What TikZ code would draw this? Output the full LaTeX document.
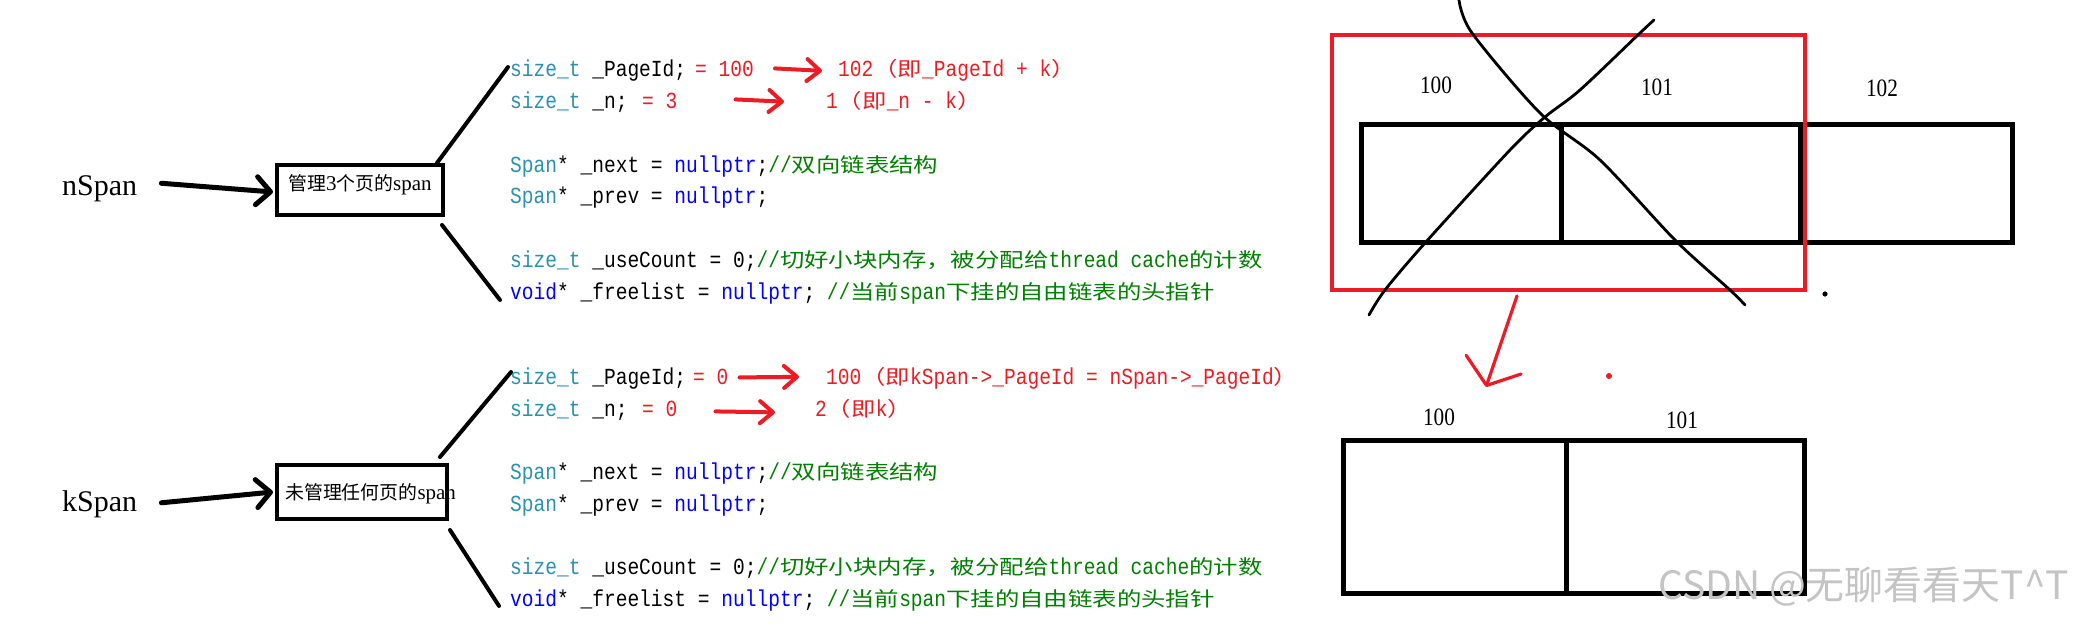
\documentclass[tikz,border=0pt]{standalone}
\usepackage{fontspec}
\setmainfont{Liberation Serif}
\newfontfamily\codefont[FakeStretch=0.85]{Liberation Mono}
\newfontfamily\codecjk[FakeStretch=1.22,Scale=0.87]{Noto Sans CJK SC}
\newfontfamily\cjk[Scale=0.9]{Noto Sans CJK SC}
\newfontfamily\numfont[FakeStretch=0.85]{Liberation Serif}
\newfontfamily\wmfont{Noto Sans CJK SC}
\usetikzlibrary{arrows.meta,calc}
\definecolor{kwteal}{HTML}{2B91AF}
\definecolor{kwblue}{HTML}{0000FF}
\definecolor{cmgreen}{HTML}{008000}
\definecolor{inkred}{HTML}{ED1C24}
\definecolor{wmgray}{HTML}{C4C4C4}
\newcommand\Zh[1]{{\codecjk #1}}
\newcommand\Ty[1]{\textcolor{kwteal}{#1}}
\newcommand\Kw[1]{\textcolor{kwblue}{#1}}
\newcommand\Cm[1]{\textcolor{cmgreen}{#1}}
\tikzset{
  code/.style={anchor=base west, inner sep=0pt, font={\codefont\fontsize{23}{23}\selectfont}},
  anno/.style={code, text=inkred},
  spanname/.style={anchor=base west, inner sep=0pt, font={\fontsize{30}{30}\selectfont}},
  spanbox/.style={draw, line width=4.5pt, inner sep=0pt, outer sep=0pt},
  boxtext/.style={anchor=base west, inner sep=0pt, font={\fontsize{21}{21}\selectfont}},
  fatarrow/.style={line width=5pt, line cap=round, -{Straight Barb[length=14pt,width=28pt,round]}},
  branch/.style={line width=4pt, line cap=round},
  redarrow/.style={draw=inkred, line width=4pt, line cap=round, -{Straight Barb[length=13pt,width=22pt,round]}},
  bigredarrow/.style={draw=inkred, line width=3.2pt, line cap=round, -{Straight Barb[length=22pt,width=58pt,round]}},
  cell/.style={draw, line width=5pt, inner sep=0pt, outer sep=0pt, minimum height=117pt},
  lowcell/.style={draw, line width=5pt, inner sep=0pt, outer sep=0pt, minimum height=153pt},
  selbox/.style={draw=inkred, line width=4pt, inner sep=0pt, outer sep=0pt},
  pagenum/.style={inner sep=0pt, font={\numfont\fontsize{25}{25}\selectfont}},
  crossline/.style={line width=2.8pt, line cap=round},
  watermark/.style={anchor=west, inner sep=0pt, text=wmgray, font={\wmfont\fontsize{39}{39}\selectfont}},
}
\begin{document}
\begin{tikzpicture}[x=1pt,y=-1pt]
\useasboundingbox (0,0) rectangle (2081,623);
\fill[white] (0,0) rectangle (2081,623);

% ---------- left: span names and boxes ----------
\node[spanname] (nspan) at (62,195) {nSpan};
\node[spanname] (kspan) at (62,511) {kSpan};
\node[spanbox, minimum width=166pt, minimum height=50pt] (box1) at (360,190) {};
\node[spanbox, minimum width=170pt, minimum height=54pt] (box2) at (362,492) {};
\node[boxtext] (box1t) at (288,190) {{\cjk 管理}3{\cjk 个页的}span};
\node[boxtext] (box2t) at (285,499) {{\cjk 未管理任何页的}span};
\draw[fatarrow] ($(nspan.east)+(24,-5)$) -- ($(box1.west)+(-4,2)$);
\draw[fatarrow] ($(kspan.east)+(24,-1)$) -- ($(box2.west)+(-4,0)$);

% ---------- code block 1 ----------
\node[code] (a1) at (510,77) {\Ty{size\_t} \_PageId;};
\node[code] (a2) at (510,109) {\Ty{size\_t} \_n;};
\node[code] (a3) at (510,172) {\Ty{Span}* \_next = \Kw{nullptr};\Cm{//\Zh{双向链表结构}}};
\node[code] (a4) at (510,204) {\Ty{Span}* \_prev = \Kw{nullptr};};
\node[code] (a5) at (510,267) {\Ty{size\_t} \_useCount = 0;\Cm{//\Zh{切好小块内存，被分配给}thread cache\Zh{的计数}}};
\node[code] (a6) at (510,299) {\Kw{void}* \_freelist = \Kw{nullptr}; \Cm{//\Zh{当前}span\Zh{下挂的自由链表的头指针}}};
\node[anno] (a1v) at (695,77) {= 100};
\node[anno] (a1r) at (838,77) {102\Zh{（即}\_PageId + k\Zh{）}};
\node[anno] (a2v) at (642,109) {= 3};
\node[anno] (a2r) at (826,109) {1\Zh{（即}\_n - k\Zh{）}};
\draw[redarrow] ($(a1v.east)+(21,-1)$) -- ($(a1r.west)+(-16,0)$);
\draw[redarrow] ($(a2v.east)+(58,-2)$) -- ($(a2r.west)+(-42,0)$);
\draw[branch] ($(box1.north east)+(-6,-2)$) -- ($(a1.west)+(-2,-4)$);
\draw[branch] ($(box1.south east)+(-1,10)$) -- ($(a6.west)+(-10,7)$);

% ---------- code block 2 ----------
\node[code] (b1) at (510,384) {\Ty{size\_t} \_PageId;};
\node[code] (b2) at (510,416) {\Ty{size\_t} \_n;};
\node[code] (b3) at (510,479) {\Ty{Span}* \_next = \Kw{nullptr};\Cm{//\Zh{双向链表结构}}};
\node[code] (b4) at (510,511) {\Ty{Span}* \_prev = \Kw{nullptr};};
\node[code] (b5) at (510,574) {\Ty{size\_t} \_useCount = 0;\Cm{//\Zh{切好小块内存，被分配给}thread cache\Zh{的计数}}};
\node[code] (b6) at (510,606) {\Kw{void}* \_freelist = \Kw{nullptr}; \Cm{//\Zh{当前}span\Zh{下挂的自由链表的头指针}}};
\node[anno] (b1v) at (693,384) {= 0};
\node[anno] (b1r) at (826,384) {100\Zh{（即}kSpan->\_PageId = nSpan->\_PageId\Zh{）}};
\node[anno] (b2v) at (642,416) {= 0};
\node[anno] (b2r) at (815,416) {2\Zh{（即}k\Zh{）}};
\draw[redarrow] ($(b1v.east)+(11,1)$) -- ($(b1r.west)+(-27,-1)$);
\draw[redarrow] ($(b2v.east)+(38,3)$) -- ($(b2r.west)+(-40,4)$);
\draw[branch] ($(box2.north east)+(-7,-8)$) -- ($(b1.west)+(1,-6)$);
\draw[branch] ($(box2.south east)+(3,11)$) -- ($(b6.west)+(-11,6)$);

% ---------- right: pages before split ----------
\node[cell, minimum width=200pt] (c100) at (1461,183.5) {};
\node[cell, minimum width=239pt, anchor=west] (c101) at (c100.east) {};
\node[cell, minimum width=212pt, anchor=west] (c102) at (c101.east) {};
\node[pagenum] (t100) at (1436,85) {100};
\node[pagenum] (t101) at (1657,87) {101};
\node[pagenum] (t102) at (1882,88) {102};
\node[selbox, minimum width=473pt, minimum height=255pt] (sel) at (1568.5,162.5) {};
\draw[crossline] plot[smooth] coordinates {(1459,0) (1472,33) (1540,113) (1600,160) (1675,240) (1730,290) (1745,305)};
\draw[crossline] plot[smooth] coordinates {(1654,20) (1640,33) (1580,90) (1545,117) (1510,150) (1425,243) (1385,290) (1369,315)};
\fill (1825,294) circle (2.6pt);
\fill[inkred] (1609,376) circle (3pt);

% ---------- right: pages after split ----------
\node[lowcell, minimum width=223pt] (d100) at (1454.5,516.5) {};
\node[lowcell, minimum width=238pt, anchor=west] (d101) at (d100.east) {};
\node[pagenum] (u100) at (1439,417) {100};
\node[pagenum] (u101) at (1682,420) {101};
\coordinate (rtip) at (1486,387);
\draw[bigredarrow] ($(sel.south)+(-51.5,6)$) -- (rtip);

\node[watermark] (wm) at (1658,587) {CSDN @无聊看看天T\textasciicircum T};
\end{tikzpicture}
\end{document}
